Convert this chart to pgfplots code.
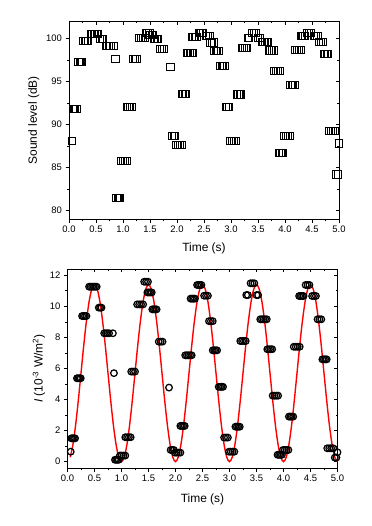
\documentclass[border=0pt]{standalone}
\usepackage{fontspec}
\setmainfont{Liberation Sans}
\usepackage{pgfplots}
\pgfplotsset{compat=1.18}
\pgfplotsset{
  common/.style={
    scale only axis, width=270bp, xmin=0, xmax=5,
    xtick={0,0.5,1,1.5,2,2.5,3,3.5,4,4.5,5},
    minor x tick num=1, minor y tick num=1,
    axis line style={line width=0.8bp, black},
    major tick length=3.5bp, minor tick length=2bp,
    every tick/.style={line width=0.8bp, black},
    tick label style={font=\fontsize{9.5}{11}\selectfont},
    label style={font=\fontsize{12}{14}\selectfont},
    /pgf/number format/assume math mode=true,
    xticklabel style={/pgf/number format/.cd, fixed, fixed zerofill, precision=1},
  },
  mainax/.style={common, tick align=outside, xtick pos=left, ytick pos=left},
  overax/.style={common, tick align=inside, xtick pos=right, ytick pos=right,
    xticklabels={}, yticklabels={}},
}
\begin{document}
\begin{tikzpicture}
\useasboundingbox (0,0) rectangle (372bp,526bp);
% ---------------- top panel ----------------
\begin{axis}[overax, at={(69bp,306.7bp)}, anchor=south west, height=198bp,
  ymin=79, ymax=102, ytick={80,85,90,95,100}]
\end{axis}
\begin{axis}[mainax, at={(69bp,306.7bp)}, anchor=south west, height=198bp,
  ymin=79, ymax=102, ytick={80,85,90,95,100},
  xlabel={Time (s)}, ylabel={Sound level (dB)},
  xlabel style={at={(axis description cs:0.5,-0.148)}, anchor=center},
  ylabel style={at={(axis description cs:-0.13,0.5)}, anchor=center}]
\addplot[only marks, mark=square, mark size=3.6bp, mark options={line width=1bp, black}] coordinates {
(0.06,88.1)
(0.07,91.8)(0.093,91.8)(0.117,91.8)(0.14,91.8)
(0.175,97.3)(0.198,97.3)(0.222,97.3)(0.245,97.3)
(0.27,99.7)(0.297,99.7)(0.323,99.7)(0.35,99.7)
(0.40,100.5)(0.428,100.5)(0.456,100.5)(0.484,100.5)(0.512,100.5)(0.54,100.5)
(0.58,99.9)(0.605,99.9)(0.63,99.9)
(0.68,99.1)(0.71,99.1)(0.74,99.1)(0.77,99.1)(0.84,99.1)
(0.86,97.6)
(0.88,81.5)(0.903,81.5)(0.927,81.5)(0.95,81.5)
(0.97,85.8)(1.003,85.8)(1.037,85.8)(1.07,85.8)
(1.07,92.0)(1.103,92.0)(1.137,92.0)(1.17,92.0)
(1.18,97.6)(1.215,97.6)(1.25,97.6)
(1.29,100.07)(1.327,100.07)(1.363,100.07)(1.40,100.07)
(1.42,100.65)(1.455,100.65)(1.49,100.65)
(1.48,100.4)(1.507,100.4)(1.533,100.4)(1.56,100.4)
(1.57,99.9)(1.597,99.9)(1.623,99.9)(1.65,99.9)
(1.69,98.8)(1.725,98.8)(1.76,98.8)
(1.88,96.7)
(1.91,88.7)(1.94,88.7)(1.97,88.7)
(1.99,87.6)(2.023,87.6)(2.057,87.6)(2.09,87.6)
(2.09,93.6)(2.117,93.6)(2.143,93.6)(2.17,93.6)
(2.18,98.3)(2.21,98.3)(2.24,98.3)(2.27,98.3)(2.30,98.3)
(2.28,100.2)(2.307,100.2)(2.333,100.2)(2.36,100.2)
(2.40,100.6)(2.427,100.6)(2.453,100.6)(2.48,100.6)
(2.53,100.3)(2.565,100.3)(2.60,100.3)
(2.62,99.53)(2.655,99.53)(2.69,99.53)
(2.69,98.52)(2.717,98.52)(2.743,98.52)(2.77,98.52)
(2.80,96.8)(2.827,96.8)(2.853,96.8)(2.88,96.8)
(2.90,92.0)(2.935,92.0)(2.97,92.0)
(2.99,88.1)(3.023,88.1)(3.057,88.1)(3.09,88.1)
(3.11,93.5)(3.137,93.5)(3.163,93.5)(3.19,93.5)
(3.20,98.9)(3.233,98.9)(3.267,98.9)(3.30,98.9)
(3.31,100.1)(3.34,100.1)(3.50,100.1)(3.53,100.1)
(3.39,100.6)(3.425,100.6)(3.46,100.6)
(3.57,99.6)(3.60,99.6)(3.63,99.6)(3.66,99.6)(3.69,99.6)
(3.70,98.6)(3.73,98.6)(3.76,98.6)(3.79,98.6)
(3.80,96.2)(3.833,96.2)(3.867,96.2)(3.90,96.2)
(3.89,86.7)(3.917,86.7)(3.943,86.7)(3.97,86.7)
(3.99,88.7)(4.023,88.7)(4.057,88.7)(4.09,88.7)
(4.10,94.6)(4.127,94.6)(4.153,94.6)(4.18,94.6)
(4.19,98.7)(4.227,98.7)(4.263,98.7)(4.30,98.7)
(4.29,100.3)(4.317,100.3)(4.343,100.3)(4.37,100.3)(4.53,100.3)(4.565,100.3)(4.60,100.3)
(4.41,100.6)(4.445,100.6)(4.48,100.6)
(4.63,99.6)(4.665,99.6)(4.70,99.6)
(4.72,98.2)(4.747,98.2)(4.773,98.2)(4.80,98.2)
(4.81,89.3)(4.847,89.3)(4.883,89.3)(4.92,89.3)
(4.95,84.2)(4.98,84.2)
(5.0,87.8)
};
\end{axis}
% ---------------- bottom panel ----------------
\begin{axis}[overax, at={(67.5bp,57.7bp)}, anchor=south west, height=199.3bp,
  ymin=-0.43, ymax=12.41, ytick={0,2,4,6,8,10,12}]
\end{axis}
\begin{axis}[mainax, at={(67.5bp,57.7bp)}, anchor=south west, height=199.3bp,
  ymin=-0.43, ymax=12.41, ytick={0,2,4,6,8,10,12},
  xlabel={Time (s)}, ylabel={\textit{I} (10\textsuperscript{-3} W/m\textsuperscript{2})},
  xlabel style={at={(axis description cs:0.5,-0.157)}, anchor=center},
  ylabel style={at={(axis description cs:-0.106,0.5)}, anchor=center}]
\addplot[only marks, mark=o, mark size=3.3bp, mark options={line width=1.25bp, black}] coordinates {
(0.06,0.64)
(0.07,1.5)(0.093,1.5)(0.117,1.5)(0.14,1.5)
(0.175,5.37)(0.198,5.37)(0.222,5.37)(0.245,5.37)
(0.27,9.38)(0.297,9.38)(0.323,9.38)(0.35,9.38)
(0.40,11.27)(0.428,11.27)(0.456,11.27)(0.484,11.27)(0.512,11.27)(0.54,11.27)
(0.58,9.92)(0.605,9.92)(0.63,9.92)
(0.68,8.27)(0.71,8.27)(0.74,8.27)(0.77,8.27)(0.84,8.27)
(0.86,5.7)
(0.88,0.12)(0.903,0.12)(0.927,0.12)(0.95,0.12)
(0.97,0.39)(1.003,0.39)(1.037,0.39)(1.07,0.39)
(1.07,1.57)(1.103,1.57)(1.137,1.57)(1.17,1.57)
(1.18,5.8)(1.215,5.8)(1.25,5.8)
(1.29,10.13)(1.327,10.13)(1.363,10.13)(1.40,10.13)
(1.42,11.59)(1.455,11.59)(1.49,11.59)
(1.48,10.9)(1.507,10.9)(1.533,10.9)(1.56,10.9)
(1.57,9.81)(1.597,9.81)(1.623,9.81)(1.65,9.81)
(1.69,7.73)(1.725,7.73)(1.76,7.73)
(1.88,4.77)
(1.91,0.75)(1.94,0.75)(1.97,0.75)
(1.99,0.58)(2.023,0.58)(2.057,0.58)(2.09,0.58)
(2.09,2.3)(2.117,2.3)(2.143,2.3)(2.17,2.3)
(2.18,6.85)(2.21,6.85)(2.24,6.85)(2.27,6.85)(2.30,6.85)
(2.28,10.5)(2.307,10.5)(2.333,10.5)(2.36,10.5)
(2.40,11.38)(2.427,11.38)(2.453,11.38)(2.48,11.38)
(2.53,10.69)(2.565,10.69)(2.60,10.69)
(2.62,9.05)(2.655,9.05)(2.69,9.05)
(2.69,7.17)(2.717,7.17)(2.743,7.17)(2.77,7.17)
(2.80,4.82)(2.827,4.82)(2.853,4.82)(2.88,4.82)
(2.90,1.55)(2.935,1.55)(2.97,1.55)
(2.99,0.64)(3.023,0.64)(3.057,0.64)(3.09,0.64)
(3.11,2.25)(3.137,2.25)(3.163,2.25)(3.19,2.25)
(3.20,7.77)(3.233,7.77)(3.267,7.77)(3.30,7.77)
(3.31,10.73)(3.34,10.73)(3.50,10.73)(3.53,10.73)
(3.39,11.49)(3.425,11.49)(3.46,11.49)
(3.57,9.17)(3.60,9.17)(3.63,9.17)(3.66,9.17)(3.69,9.17)
(3.70,7.24)(3.73,7.24)(3.76,7.24)(3.79,7.24)
(3.80,4.25)(3.833,4.25)(3.867,4.25)(3.90,4.25)
(3.89,0.44)(3.917,0.44)(3.943,0.44)(3.97,0.44)
(3.99,0.75)(4.023,0.75)(4.057,0.75)(4.09,0.75)
(4.10,2.9)(4.127,2.9)(4.153,2.9)(4.18,2.9)
(4.19,7.4)(4.227,7.4)(4.263,7.4)(4.30,7.4)
(4.29,10.67)(4.317,10.67)(4.343,10.67)(4.37,10.67)(4.53,10.67)(4.565,10.67)(4.60,10.67)
(4.41,11.38)(4.445,11.38)(4.48,11.38)
(4.63,9.17)(4.665,9.17)(4.70,9.17)
(4.72,6.59)(4.747,6.59)(4.773,6.59)(4.80,6.59)
(4.81,0.86)(4.847,0.86)(4.883,0.86)(4.92,0.86)
(4.95,0.26)(4.98,0.26)
(5.0,0.6)
};
\addplot[red, line width=1.4bp, smooth, no marks] coordinates {
(0.05,0.279)(0.10,1.089)(0.15,2.350)(0.20,3.939)(0.25,5.700)(0.30,7.461)(0.35,9.050)(0.40,10.311)(0.45,11.121)(0.50,11.400)
(0.55,11.121)(0.60,10.311)(0.65,9.050)(0.70,7.461)(0.75,5.700)(0.80,3.939)(0.85,2.350)(0.90,1.089)(0.95,0.279)(1.00,0.000)
(1.05,0.279)(1.10,1.089)(1.15,2.350)(1.20,3.939)(1.25,5.700)(1.30,7.461)(1.35,9.050)(1.40,10.311)(1.45,11.121)(1.50,11.400)
(1.55,11.121)(1.60,10.311)(1.65,9.050)(1.70,7.461)(1.75,5.700)(1.80,3.939)(1.85,2.350)(1.90,1.089)(1.95,0.279)(2.00,0.000)
(2.05,0.279)(2.10,1.089)(2.15,2.350)(2.20,3.939)(2.25,5.700)(2.30,7.461)(2.35,9.050)(2.40,10.311)(2.45,11.121)(2.50,11.400)
(2.55,11.121)(2.60,10.311)(2.65,9.050)(2.70,7.461)(2.75,5.700)(2.80,3.939)(2.85,2.350)(2.90,1.089)(2.95,0.279)(3.00,0.000)
(3.05,0.279)(3.10,1.089)(3.15,2.350)(3.20,3.939)(3.25,5.700)(3.30,7.461)(3.35,9.050)(3.40,10.311)(3.45,11.121)(3.50,11.400)
(3.55,11.121)(3.60,10.311)(3.65,9.050)(3.70,7.461)(3.75,5.700)(3.80,3.939)(3.85,2.350)(3.90,1.089)(3.95,0.279)(4.00,0.000)
(4.05,0.279)(4.10,1.089)(4.15,2.350)(4.20,3.939)(4.25,5.700)(4.30,7.461)(4.35,9.050)(4.40,10.311)(4.45,11.121)(4.50,11.400)
(4.55,11.121)(4.60,10.311)(4.65,9.050)(4.70,7.461)(4.75,5.700)(4.80,3.939)(4.85,2.350)(4.90,1.089)(4.95,0.279)(5.00,0.000)
};
\end{axis}
\end{tikzpicture}
\end{document}
